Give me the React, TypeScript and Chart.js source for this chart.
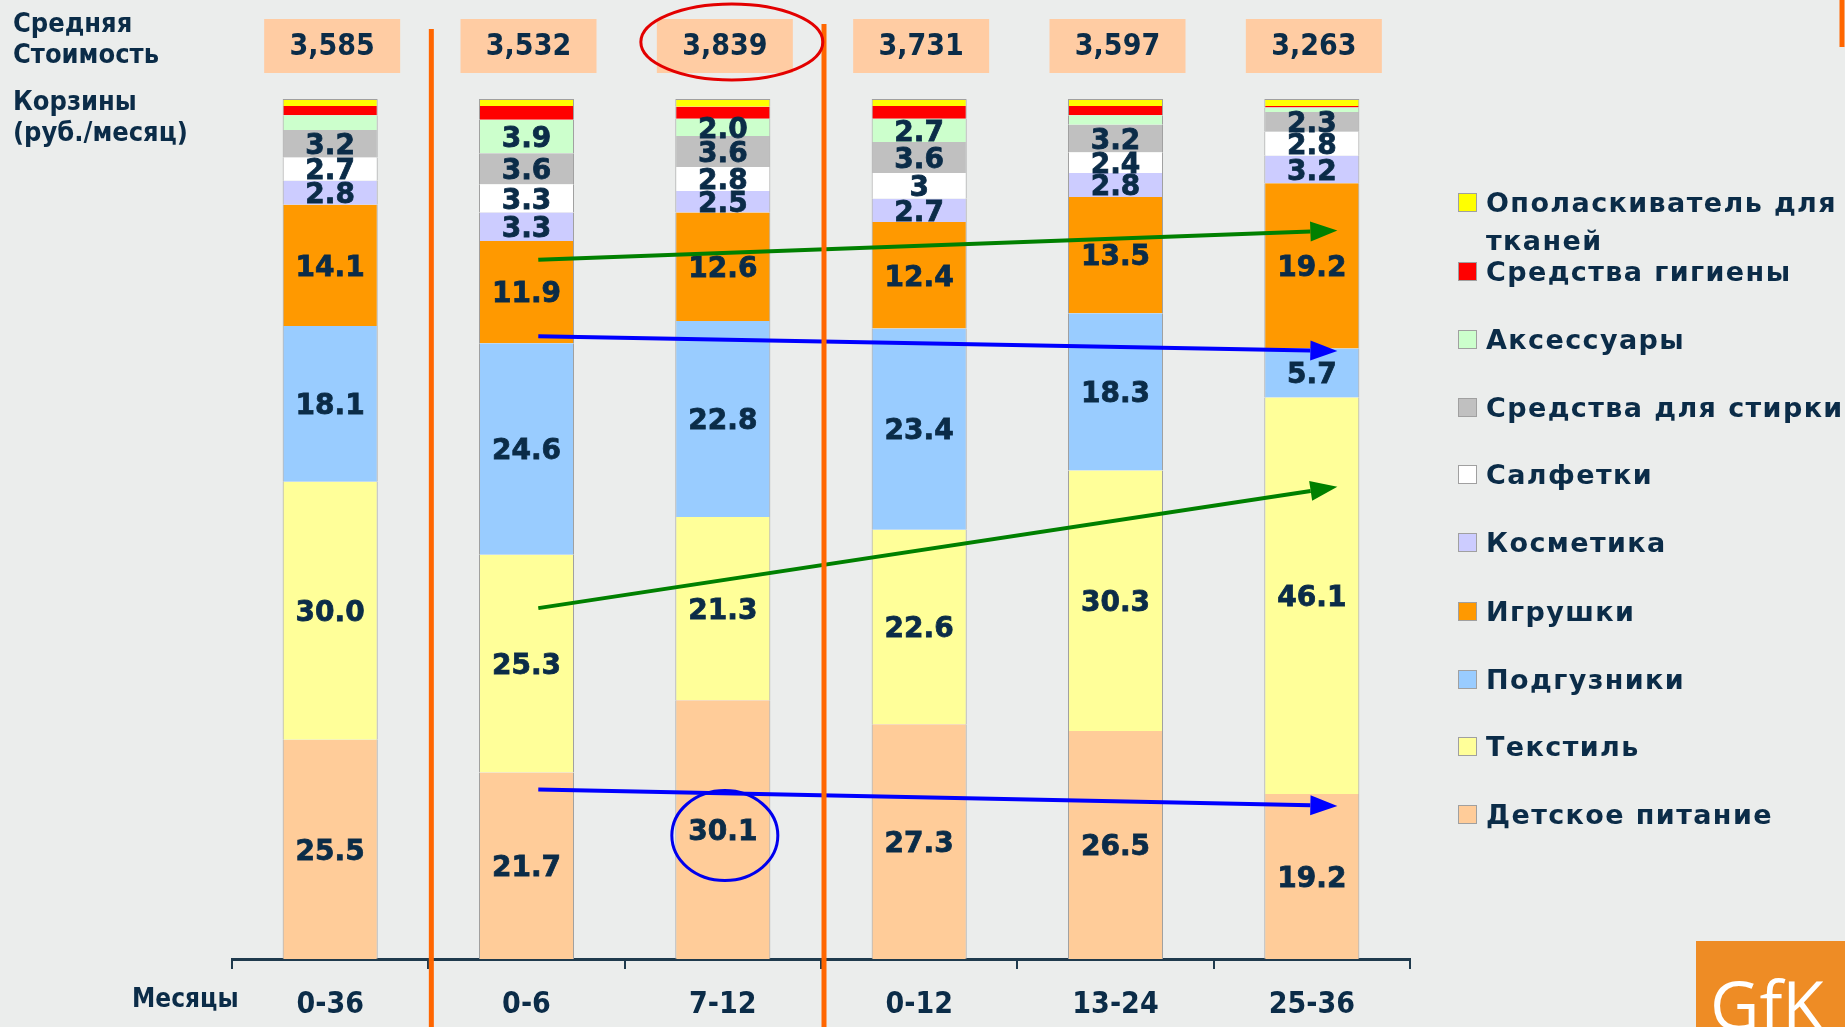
import React, { useEffect, useRef } from 'react';
import { Chart, registerables } from 'chart.js';

Chart.register(...registerables);

// ---------- data ----------
const months = ['0-36', '0-6', '7-12', '0-12', '13-24', '25-36'];
const avgCost = [3585, 3532, 3839, 3731, 3597, 3263];

// strings = values printed on the bar, numbers = unprinted (estimated) values
const babyFood: (string | number)[] = ['25.5', '21.7', '30.1', '27.3', '26.5', '19.2'];
const textile: (string | number)[] = ['30.0', '25.3', '21.3', '22.6', '30.3', '46.1'];
const diapers: (string | number)[] = ['18.1', '24.6', '22.8', '23.4', '18.3', '5.7'];
const toys: (string | number)[] = ['14.1', '11.9', '12.6', '12.4', '13.5', '19.2'];
const cosmetics: (string | number)[] = ['2.8', '3.3', '2.5', '2.7', '2.8', '3.2'];
const napkins: (string | number)[] = ['2.7', '3.3', '2.8', '3', '2.4', '2.8'];
const laundry: (string | number)[] = ['3.2', '3.6', '3.6', '3.6', '3.2', '2.3'];
const accessories: (string | number)[] = [1.7, '3.9', '2.0', '2.7', 1.1, 0.5];
const hygiene: (string | number)[] = [1.1, 1.6, 1.4, 1.5, 1.1, 0.2];
const softener: (string | number)[] = [0.8, 0.8, 0.9, 0.8, 0.8, 0.8];

const seriesNames = [
  'Детское питание',
  'Текстиль',
  'Подгузники',
  'Игрушки',
  'Косметика',
  'Салфетки',
  'Средства для стирки',
  'Аксессуары',
  'Средства гигиены',
  'Ополаскиватель для тканей',
];
const seriesValues = [babyFood, textile, diapers, toys, cosmetics, napkins, laundry, accessories, hygiene, softener];
const seriesColors = ['#ffcc99', '#ffff99', '#99ccff', '#ff9900', '#ccccff', '#ffffff', '#c0c0c0', '#ccffcc', '#ff0000', '#ffff00'];

// legend (top to bottom) – lines per item
const legendLines = [
  ['Ополаскиватель для', 'тканей'],
  ['Средства гигиены'],
  ['Аксессуары'],
  ['Средства для стирки'],
  ['Салфетки'],
  ['Косметика'],
  ['Игрушки'],
  ['Подгузники'],
  ['Текстиль'],
  ['Детское питание'],
];

// trend arrows in data coordinates [category index, % value]
const trendArrows = [
  { from: [1.06, 81.3], to: [5.13, 84.7], color: '#008000' },
  { from: [1.06, 72.4], to: [5.13, 70.7], color: '#0000ff' },
  { from: [1.06, 40.8], to: [5.13, 54.9], color: '#008000' },
  { from: [1.06, 19.7], to: [5.13, 17.8], color: '#0000ff' },
];

const NAVY = '#0b2c48';
const BG = '#ebedec';
const COND = '"DejaVu Sans Condensed", "DejaVu Sans", sans-serif';
const WIDE = '"DejaVu Sans", Verdana, sans-serif';

const decorPlugin = {
  id: 'decor',
  beforeDraw(chart: any) {
    const { ctx, width, height } = chart;
    ctx.save();
    ctx.fillStyle = BG;
    ctx.fillRect(0, 0, width, height);
    ctx.restore();
  },
  afterDatasetsDraw(chart: any) {
    const { ctx } = chart;
    ctx.save();
    // segment labels
    const fs = 28;
    ctx.font = `bold ${fs}px ${WIDE}`;
    ctx.fillStyle = NAVY;
    ctx.strokeStyle = NAVY;
    ctx.lineWidth = 0.8;
    ctx.textAlign = 'center';
    ctx.textBaseline = 'alphabetic';
    seriesValues.forEach((vals, i) => {
      const meta = chart.getDatasetMeta(i);
      vals.forEach((v, j) => {
        if (typeof v !== 'string') return;
        const el: any = meta.data[j];
        const p = el.getProps(['x', 'y', 'base'], true);
        const cy = (p.y + p.base) / 2;
        const by = cy + fs * 0.729 / 2;
        ctx.fillText(v, p.x, by);
        ctx.strokeText(v, p.x, by);
      });
    });
    ctx.restore();
  },
  afterDraw(chart: any) {
    const { ctx } = chart;
    const xs = chart.scales.x;
    const ys = chart.scales.y;
    ctx.save();

    // header boxes with average basket cost
    ctx.textAlign = 'center';
    ctx.textBaseline = 'alphabetic';
    avgCost.forEach((c, i) => {
      const x = xs.getPixelForValue(i) + 2;
      ctx.fillStyle = '#ffcca3';
      ctx.fillRect(x - 68, 19, 136, 54);
      ctx.fillStyle = NAVY;
      ctx.font = `bold 30px ${COND}`;
      ctx.fillText(c.toLocaleString('en-US'), x, 44 + 30 * 0.729 / 2);
    });

    // left titles
    ctx.textAlign = 'left';
    ctx.fillStyle = NAVY;
    ctx.font = `bold 27px ${COND}`;
    ctx.fillText('Средняя', 13, 32);
    ctx.fillText('Стоимость', 13, 63);
    ctx.fillText('Корзины', 13, 110);
    ctx.fillText('(руб./месяц)', 13, 141);
    ctx.font = `bold 26px ${COND}`;
    ctx.fillText('Месяцы', 132, 1007);

    // legend
    const legColors = seriesColors.slice().reverse();
    const centers = [202, 271, 339, 407, 474, 542, 611, 679, 746, 814];
    ctx.font = `bold 27px ${WIDE}`;
    try { (ctx as any).letterSpacing = '1.4px'; } catch (e) {}
    legendLines.forEach((lines, i) => {
      const cy = centers[i];
      ctx.fillStyle = legColors[i];
      ctx.fillRect(1458, cy - 9, 19, 19);
      ctx.strokeStyle = '#a0a0a0';
      ctx.lineWidth = 1;
      ctx.strokeRect(1458.5, cy - 8.5, 18, 18);
      ctx.fillStyle = NAVY;
      lines.forEach((t, k) => {
        ctx.fillText(t, 1486, cy + 10 + k * 38);
      });
    });
    try { (ctx as any).letterSpacing = '0px'; } catch (e) {}

    // trend arrows
    trendArrows.forEach((a) => {
      const x1 = xs.getPixelForValue(a.from[0]);
      const y1 = ys.getPixelForValue(a.from[1]);
      const x2 = xs.getPixelForValue(a.to[0]);
      const y2 = ys.getPixelForValue(a.to[1]);
      const ang = Math.atan2(y2 - y1, x2 - x1);
      const L = 27, W = 10;
      const bx = x2 - L * Math.cos(ang);
      const by = y2 - L * Math.sin(ang);
      ctx.strokeStyle = a.color;
      ctx.fillStyle = a.color;
      ctx.lineWidth = 4;
      ctx.beginPath();
      ctx.moveTo(x1, y1);
      ctx.lineTo(bx, by);
      ctx.stroke();
      ctx.beginPath();
      ctx.moveTo(x2, y2);
      ctx.lineTo(bx + W * Math.sin(ang), by - W * Math.cos(ang));
      ctx.lineTo(bx - W * Math.sin(ang), by + W * Math.cos(ang));
      ctx.closePath();
      ctx.fill();
    });

    // orange separators
    ctx.strokeStyle = '#ff6600';
    ctx.lineWidth = 5;
    const sep1 = (xs.getPixelForValue(0) + xs.getPixelForValue(1)) / 2 + 3;
    const sep2 = (xs.getPixelForValue(2) + xs.getPixelForValue(3)) / 2 + 3;
    ctx.beginPath();
    ctx.moveTo(sep1, 29);
    ctx.lineTo(sep1, 1027);
    ctx.moveTo(sep2, 24);
    ctx.lineTo(sep2, 1027);
    ctx.moveTo(1842, 0);
    ctx.lineTo(1842, 47);
    ctx.stroke();

    // red ellipse around highest cost
    const cx = xs.getPixelForValue(2);
    ctx.strokeStyle = '#e30000';
    ctx.lineWidth = 3;
    ctx.beginPath();
    ctx.ellipse(cx + 9, 42, 91, 38, 0, 0, Math.PI * 2);
    ctx.stroke();

    // blue ellipse around 30.1
    const el: any = chart.getDatasetMeta(0).data[2];
    const p = el.getProps(['x', 'y', 'base'], true);
    ctx.strokeStyle = '#0000ee';
    ctx.lineWidth = 3;
    ctx.beginPath();
    ctx.ellipse(p.x + 2, (p.y + p.base) / 2 + 6, 53, 45, 0, 0, Math.PI * 2);
    ctx.stroke();

    // GfK logo
    ctx.fillStyle = '#ee8c25';
    ctx.fillRect(1696, 941, 149, 86);
    ctx.fillStyle = '#ffffff';
    ctx.font = `68px "Open Sans", "DejaVu Sans", sans-serif`;
    ctx.textAlign = 'left';
    ctx.fillText('GfK', 1710, 1030);

    ctx.restore();
  },
};

export default function App() {
  const ref = useRef<HTMLCanvasElement | null>(null);
  useEffect(() => {
    document.body.style.margin = '0';
    document.body.style.background = BG;
    const canvas = ref.current!;
    const chart = new Chart(canvas, {
      type: 'bar',
      data: {
        labels: months,
        datasets: seriesValues.map((vals, i) => ({
          label: seriesNames[i],
          data: vals.map((v) => Number(v)),
          backgroundColor: seriesColors[i],
          borderColor: '#a0a0a0',
          borderWidth: { left: 1, right: 1, top: i === seriesValues.length - 1 ? 1 : 0, bottom: 0 },
          borderSkipped: false,
          categoryPercentage: 1,
          barPercentage: 0.484,
        })),
      },
      options: {
        responsive: false,
        devicePixelRatio: 1,
        animation: false,
        layout: { padding: { left: 232, right: 435, top: 99, bottom: 0 } },
        plugins: {
          legend: { display: false },
          tooltip: { enabled: false },
          title: { display: false },
        },
        scales: {
          x: {
            stacked: true,
            grid: {
              display: true,
              drawOnChartArea: false,
              drawTicks: true,
              tickLength: 10,
              color: '#1f3a4d',
              lineWidth: 2,
              offset: true,
            },
            border: { display: true, color: '#1f3a4d', width: 3 },
            ticks: {
              color: NAVY,
              font: { family: COND, size: 30, weight: 'bold' },
              padding: 18,
              maxRotation: 0,
              autoSkip: false,
            },
            afterFit: (s: any) => {
              s.height = 68;
            },
          },
          y: { stacked: true, min: 0, max: 100, display: false },
        },
      },
      plugins: [decorPlugin],
    } as any);
    return () => chart.destroy();
  }, []);
  return (
    <div style={{ position: 'fixed', left: 0, top: 0, width: 1845, height: 1027, background: BG }}>
      <canvas ref={ref} width={1845} height={1027} style={{ display: 'block', width: 1845, height: 1027 }} />
    </div>
  );
}
